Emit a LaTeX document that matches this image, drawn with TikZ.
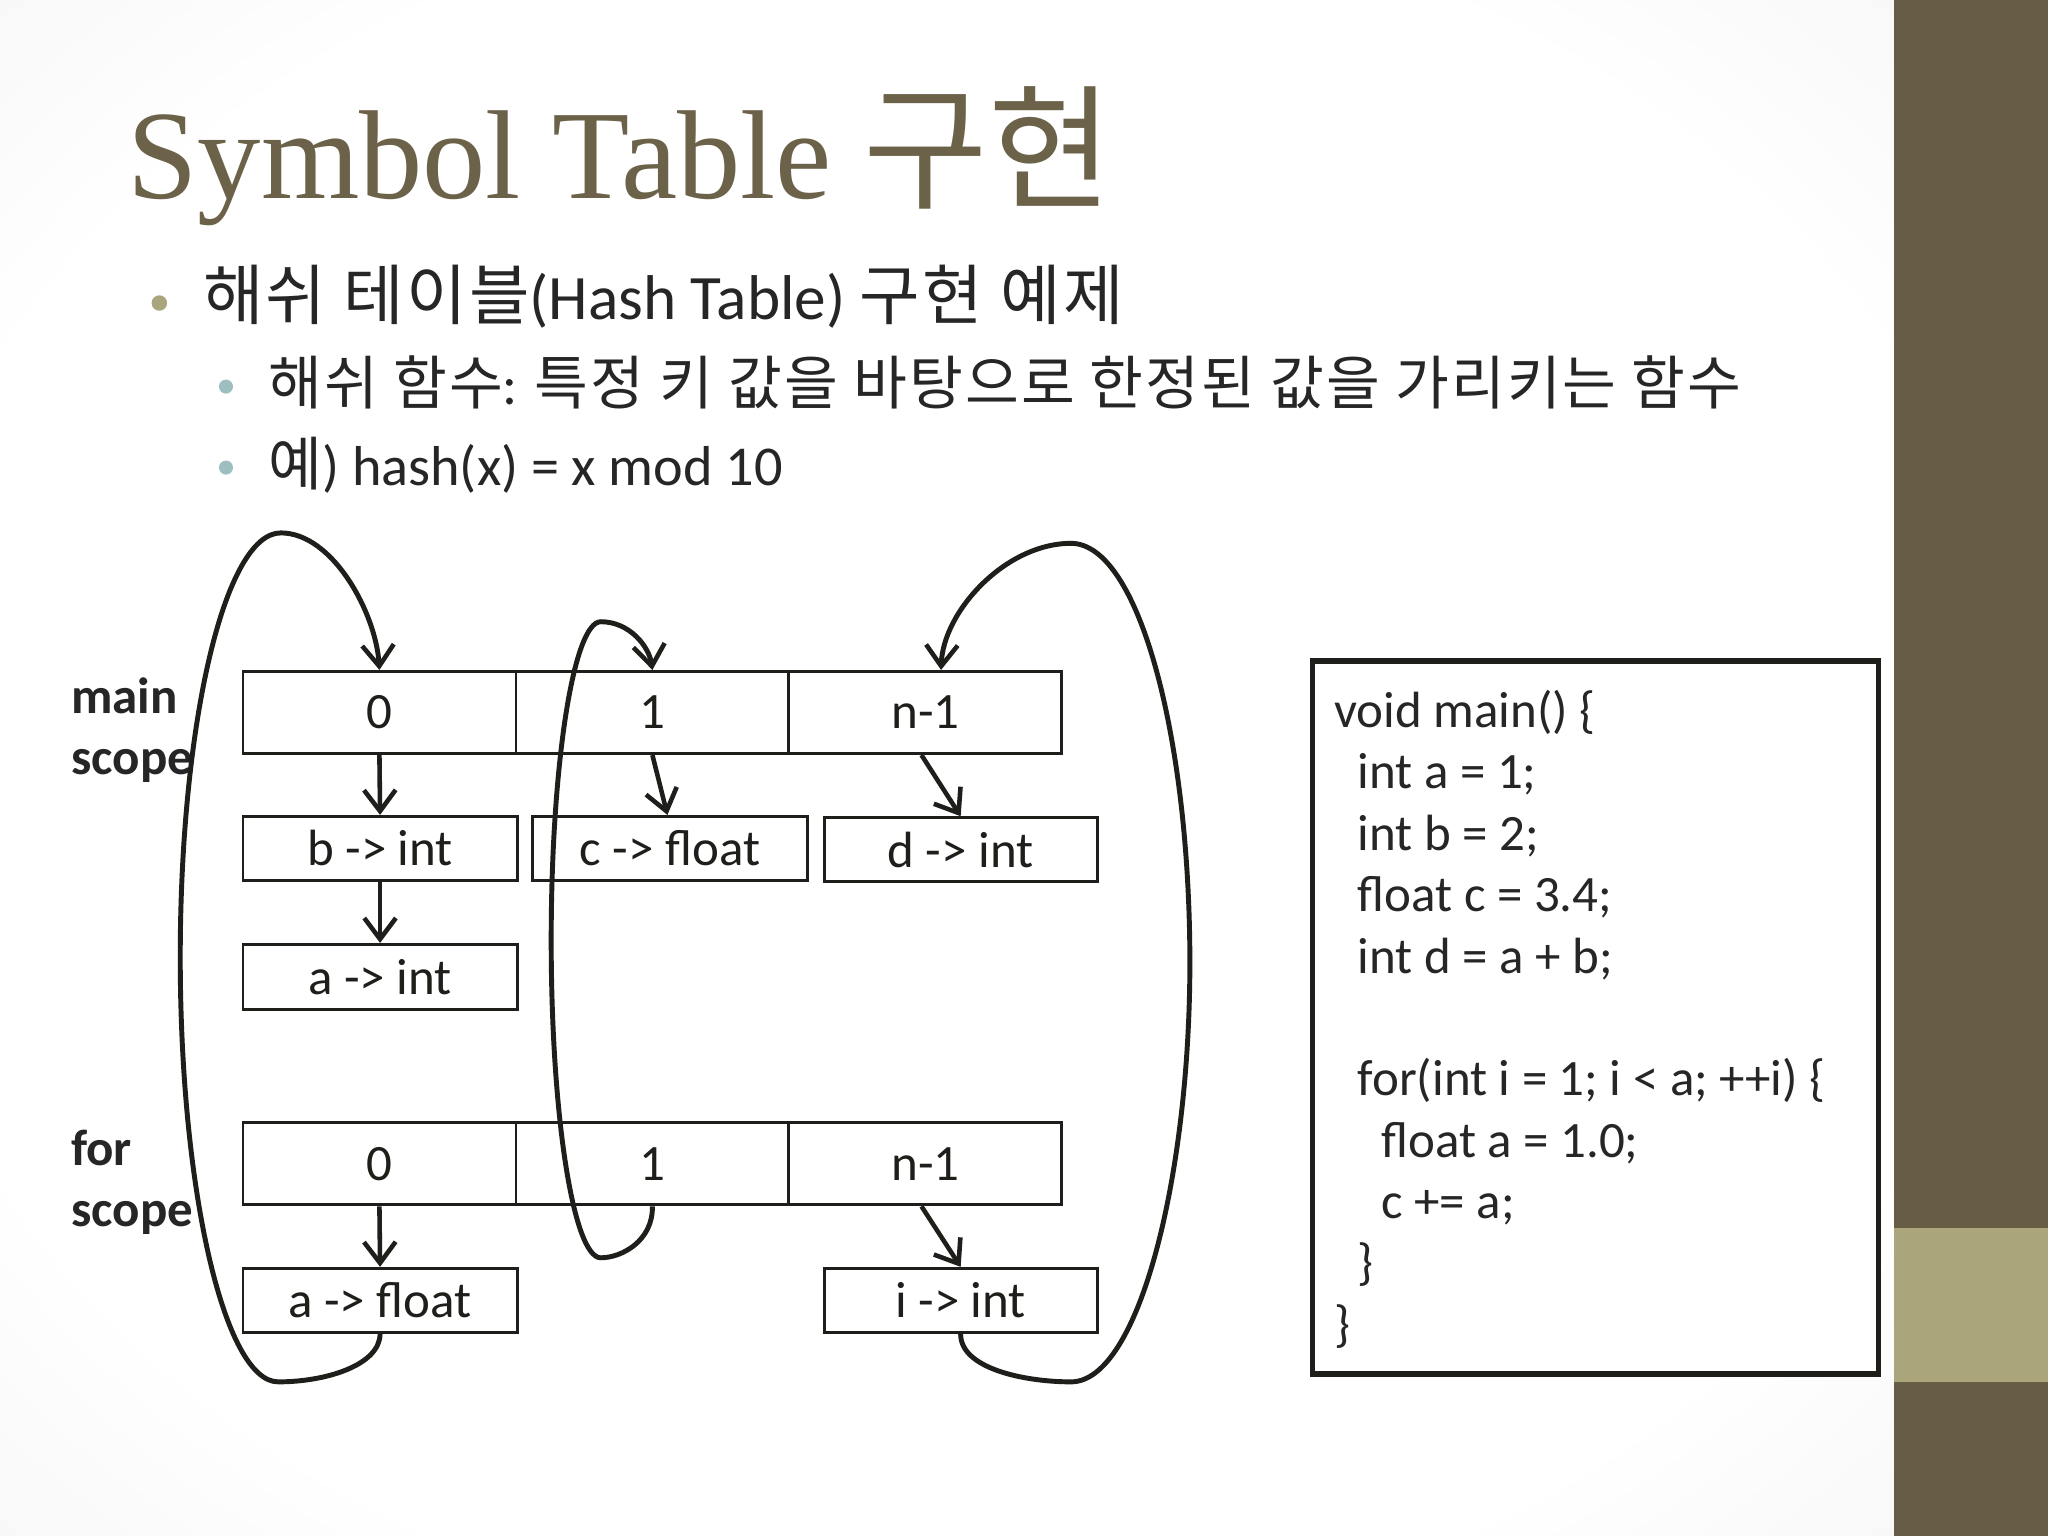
\documentclass[tikz,border=0pt]{standalone}
\usepackage{fontspec}
\setmainfont{Carlito}
\newfontfamily\kr[Scale=1.04, LetterSpace=3.5]{Noto Sans CJK KR}
\newfontfamily\krt{Noto Sans CJK KR}
\newfontfamily\ttl{Liberation Serif}
\usetikzlibrary{arrows.meta}
\definecolor{bardark}{HTML}{675D47}
\definecolor{barlight}{HTML}{ABA57C}
\definecolor{titlecol}{HTML}{6B6249}
\definecolor{txt}{HTML}{262626}
\definecolor{bulA}{HTML}{A9A57C}
\definecolor{bulB}{HTML}{9EBFC2}
\definecolor{ink}{HTML}{1E1E1A}
\pgfdeclareradialshading{bgsh}{\pgfpoint{0bp}{0bp}}{color(0bp)=(white); color(28bp)=(white); color(50bp)=(black!8); color(72bp)=(black!11)}
\def\pxu{0.013061cm}
\begin{document}
\begin{tikzpicture}[x=0.013061cm, y=-0.013061cm,
  cell/.style={draw=ink, line width=0.8pt, inner sep=0pt, minimum width=209*\pxu, minimum height=63*\pxu, text=ink, font=\fontsize{14.5}{17}\selectfont},
  entry/.style={cell, minimum width=210*\pxu, minimum height=49*\pxu},
  lbl/.style={anchor=base west, inner sep=0pt, text=txt, font=\bfseries\fontsize{14.5}{17}\selectfont},
  codeline/.style={anchor=base west, inner sep=0pt, text=txt, font=\fontsize{14.5}{17}\selectfont},
  link/.style={draw=ink, line width=1.3pt, -{Straight Barb[length=6pt,width=9pt,line width=1.3pt]}},
  loopy/.style={link, line width=1.4pt}
]
\useasboundingbox (0,0) rectangle (1568,1176);
% background
\shade[shading=bgsh] (0,0) rectangle (1450,1176);
\fill[bardark] (1450,0) rectangle (1568,1176);
\fill[barlight] (1450,940) rectangle (1568,1058);

% title and bullets
\node[anchor=base west, inner sep=0pt, text=titlecol, font=\ttl\fontsize{36}{40}\selectfont] (title) at (97,152) {Symbol Table {\krt\fontsize{38.5}{40}\selectfont 구현}};
\fill[bulA] (122,232) circle[radius=2.2pt];
\node[anchor=base west, inner sep=0pt, text=txt, font=\fontsize{18}{20}\selectfont] (bA) at (155,245) {{\kr 해쉬 테이블}(Hash Table) {\kr 구현 예제}};
\fill[bulB] (173,296) circle[radius=2pt];
\node[anchor=base west, inner sep=0pt, text=txt, font=\fontsize{16}{18}\selectfont] (bB) at (205,310) {{\kr 해쉬 함수}: {\kr 특정 키 값을 바탕으로 한정된 값을 가리키는 함수}};
\fill[bulB] (173,358) circle[radius=2pt];
\node[anchor=base west, inner sep=0pt, text=txt, font=\fontsize{16}{18}\selectfont] (bC) at (205,372) {{\kr 예}) hash(x) = x mod 10};

% scope labels
\node[lbl] (lmain) at (54,546) {main};
\node[lbl] (lmscope) at (54,593) {scope};
\node[lbl] (lfor) at (54,892) {for};
\node[lbl] (lfscope) at (54,939) {scope};

% main table
\node[cell] (m0) at (290.5,545.5) {0};
\node[cell] (m1) at (499.5,545.5) {1};
\node[cell] (m2) at (708.5,545.5) {n-1};
\node[entry] (eb) at (291,649.5) {b -> int};
\node[entry] (ec) at (513,649.5) {c -> float};
\node[entry, minimum width=209*\pxu] (ed) at (735.5,650.5) {d -> int};
\node[entry, minimum height=50*\pxu] (ea) at (291,748) {a -> int};

% for table
\node[cell] (f0) at (290.5,891) {0};
\node[cell] (f1) at (499.5,891) {1};
\node[cell] (f2) at (708.5,891) {n-1};
\node[entry] (eaf) at (291,995.5) {a -> float};
\node[entry, minimum width=209*\pxu] (ei) at (735.5,995.5) {i -> int};

% short arrows
\draw[link] (m0.south) -- (eb.north);
\draw[link] (eb.south) -- (ea.north);
\draw[link] (m1.south) -- ([xshift=-2*\pxu]ec.north);
\draw[link] ([xshift=-3*\pxu]m2.south) -- (ed.north);
\draw[link] (f0.south) -- (eaf.north);
\draw[link] ([xshift=-3*\pxu]f2.south) -- (ei.north);

% big loops
\draw[loopy] (eaf.south) .. controls (291,1045) and (250,1058) .. (213,1058)
  .. controls (172,1058) and (138,912) .. (138,733)
  .. controls (138,554) and (172,408) .. (215,408)
  .. controls (255,408) and (288,470) .. (m0.north);
\draw[loopy] (f1.south) .. controls (500,950) and (476,963) .. (460,963)
  .. controls (439,963) and (422,854) .. (422,720)
  .. controls (422,586) and (439,476) .. (460,476)
  .. controls (482,476) and (497,495) .. (m1.north);
\draw[loopy] (ei.south) .. controls (735,1048) and (785,1058) .. (820,1058)
  .. controls (872,1058) and (911,900) .. (911,737)
  .. controls (911,565) and (872,416) .. (820,416)
  .. controls (770,416) and (722,468) .. ([xshift=12*\pxu]m2.north);

% code box
\node[draw=ink, line width=1.5pt, fill=white, minimum width=433*\pxu, minimum height=546*\pxu, inner sep=0pt] (code) at (1221.5,779) {};
\node[codeline] (c1) at (1021,557) {void main() \{};
\node[codeline] (c2) at (1039,604) {int a = 1;};
\node[codeline] (c3) at (1039,651) {int b = 2;};
\node[codeline] (c4) at (1039,698) {float c = 3.4;};
\node[codeline] (c5) at (1039,745) {int d = a + b;};
\node[codeline] (c6) at (1039,839) {for(int i = 1; i < a; ++i) \{};
\node[codeline] (c7) at (1057,886) {float a = 1.0;};
\node[codeline] (c8) at (1057,933) {c += a;};
\node[codeline] (c9) at (1039,980) {\}};
\node[codeline] (c10) at (1021,1027) {\}};
\end{tikzpicture}
\end{document}
